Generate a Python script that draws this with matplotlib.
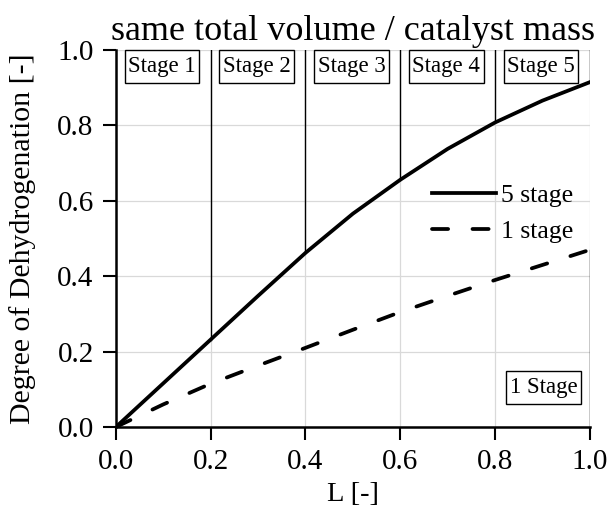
import matplotlib

matplotlib.use("Agg")

import matplotlib.pyplot as plt

L = [0.0, 0.1, 0.2, 0.3, 0.4, 0.5, 0.6, 0.7, 0.8, 0.9, 1.0]
five_stage = [0.0, 0.116, 0.232, 0.348, 0.462, 0.566, 0.656, 0.738, 0.808, 0.866, 0.915]
one_stage = [0.0, 0.06, 0.115, 0.163, 0.21, 0.258, 0.305, 0.348, 0.39, 0.43, 0.47]

stage_labels = ["Stage 1", "Stage 2", "Stage 3", "Stage 4", "Stage 5"]
stage_edges = [0.2, 0.4, 0.6, 0.8, 1.0]

plt.rcParams["font.family"] = ["Liberation Serif", "DejaVu Serif"]

fig = plt.figure(figsize=(6.1, 5.22), dpi=100)
ax = fig.add_axes([0.19, 0.182, 0.777, 0.722])

ax.grid(True, color="#d9d9d9", linewidth=0.9)
ax.set_axisbelow(True)

ax.plot(L, five_stage, color="black", linewidth=2.7, label="5 stage")
ax.plot(L, one_stage, color="black", linewidth=2.7, linestyle=(0, (4.3, 6.5)), label="1 stage",
        dash_capstyle="round")

# stage boundaries: from the curve up to 1.0
for edge in stage_edges:
    y_end = five_stage[L.index(edge)]
    ax.plot([edge, edge], [y_end, 1.0], color="black", linewidth=1.0)

# right edge for the single stage
ax.plot([1.0, 1.0], [0.0, one_stage[-1]], color="black", linewidth=1.0)

box = {"boxstyle": "square,pad=0.15", "mutation_aspect": 1.8,
       "fc": "white", "ec": "black", "lw": 1.0}
for i, label in enumerate(stage_labels):
    ax.text(0.097 + 0.2 * i, 0.957, label, ha="center", va="center", fontsize=16.5, bbox=box)
ax.text(0.902, 0.104, "1 Stage", ha="center", va="center", fontsize=16.5, bbox=box)

ax.set_xlim(0, 1.0)
ax.set_ylim(0, 1.0)
ax.set_xticks([0.0, 0.2, 0.4, 0.6, 0.8, 1.0])
ax.set_yticks([0.0, 0.2, 0.4, 0.6, 0.8, 1.0])
ax.tick_params(direction="out", length=9.5, width=1.5, labelsize=21, pad=6.5)

for side in ["top", "right"]:
    ax.spines[side].set_visible(False)
for side in ["left", "bottom"]:
    ax.spines[side].set_linewidth(1.8)

ax.set_xlabel("L [-]", fontsize=20.5, labelpad=5)
ax.set_ylabel("Degree of Dehydrogenation [-]", fontsize=21.5, labelpad=15)
ax.set_title("same total volume / catalyst mass", fontsize=26, pad=7)

ax.legend(loc="center right", bbox_to_anchor=(0.965, 0.567), frameon=False, fontsize=18.5,
          handlelength=2.5, handletextpad=0.2, labelspacing=0.5,
          borderpad=0, borderaxespad=0)

fig.savefig("out.png", dpi=100)
